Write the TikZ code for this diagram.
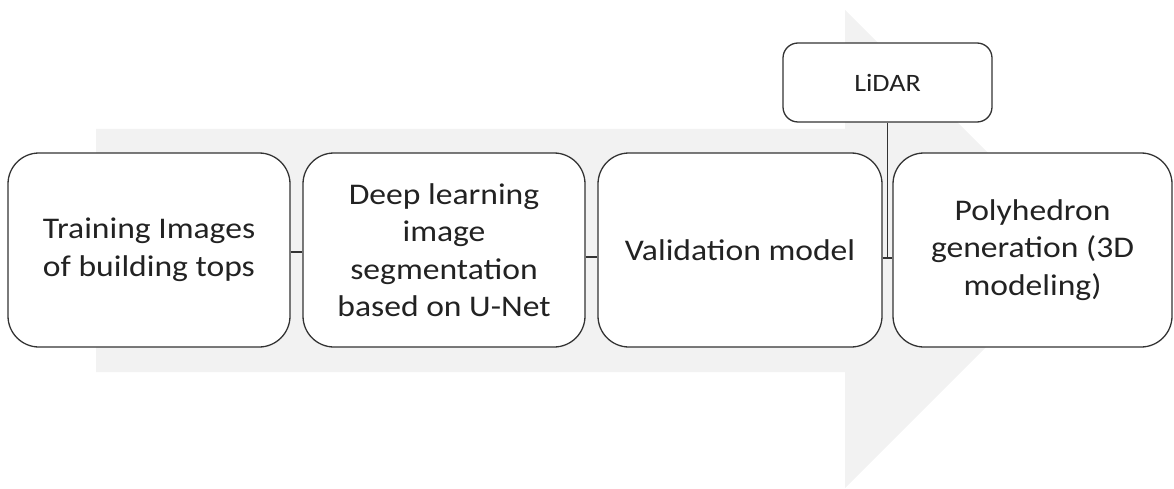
\documentclass[tikz,border=0pt]{standalone}
\usepackage{fontspec}
\setmainfont{Carlito}[FakeStretch=1.12]
\definecolor{arrowfill}{HTML}{F2F2F2}
\definecolor{edge}{HTML}{333333}
\definecolor{ink}{HTML}{222222}
\begin{document}
\begin{tikzpicture}[x=1pt,y=-1pt,
  stage/.style={draw=edge, line width=1.3pt, fill=white, rounded corners=31pt,
    minimum width=282pt, minimum height=194pt, inner sep=0pt,
    align=center, text=ink, font=\fontsize{30}{37.5}\selectfont},
  source/.style={draw=edge, line width=1.3pt, fill=white, rounded corners=15pt,
    minimum width=209pt, minimum height=79pt, inner sep=0pt,
    text=ink, font=\fontsize{25}{30}\selectfont},
  link/.style={draw=edge, line width=1.3pt}]
\useasboundingbox (0,0) rectangle (1174,489);

% wide background arrow
\fill[arrowfill] (96,129) -- (845,129) -- (845,10) -- (1084,249)
  -- (845,488) -- (845,372) -- (96,372) -- cycle;

% process stages
\node[stage] (b1) at (149,250) {Training Images\\of building tops};
\node[stage] (b2) at (444,250) {Deep learning\\image\\segmentation\\based on U-Net};
\node[stage, minimum width=284pt] (b3) at (740,250) {Validation model};
\node[stage, minimum width=279pt] (b4) at (1032.5,250) {Polyhedron\\generation (3D\\modeling)};

% additional input
\node[source] (lidar) at (887.5,82.5) {LiDAR};

% connectors
\draw[link] ([yshift=-2pt]b1.east) -- ([yshift=-2pt]b2.west);
\draw[link] ([yshift=-7pt]b2.east) -- ([yshift=-7pt]b3.west);
\draw[link] ([yshift=-8pt]b3.east) -- ([yshift=-8pt]b4.west);
\coordinate (j) at ([yshift=-8pt]b3.east -| lidar.south);
\draw[link] (lidar.south) -- (j);
\end{tikzpicture}
\end{document}
